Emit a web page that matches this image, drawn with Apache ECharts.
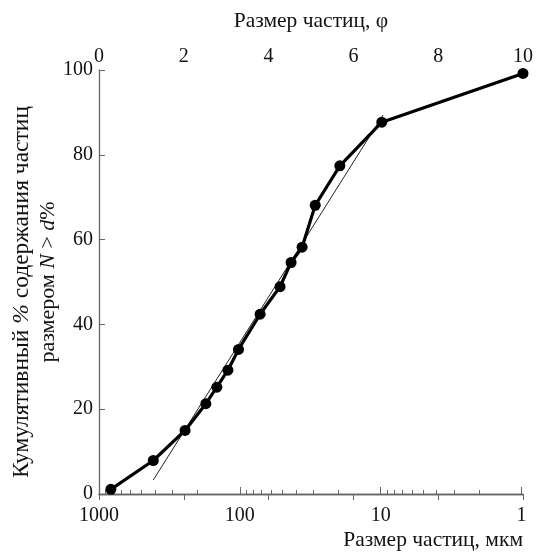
<!DOCTYPE html>
<html>
<head>
<meta charset="utf-8">
<script src="https://cdn.jsdelivr.net/npm/echarts@6/dist/echarts.min.js"></script>
<style>html,body{margin:0;padding:0;background:#fff;}#c{width:539px;height:557px;}</style>
</head>
<body>
<div id="c"></div>
<script>
// Data: particle size in phi units and cumulative %
var phiValues = [0.28, 1.28, 2.03, 2.52, 2.78, 3.04, 3.29, 3.80, 4.27, 4.53, 4.79, 5.10, 5.68, 6.67, 10.0];
var cumPercent = [1.1, 7.9, 15.0, 21.3, 25.2, 29.2, 34.1, 42.4, 48.9, 54.6, 58.2, 68.1, 77.4, 87.7, 99.2];
// Thin straight fit line (endpoints)
var fitPhi = [1.28, 6.70];
var fitPercent = [3.3, 89.4];
// Bottom axis tick labels (micrometres) and minor ticks
var majorSizes = [1000, 100, 10, 1];
var minorSizes = [900,800,700,600,500,400,300,200, 90,80,70,60,50,40,30,20, 9,8,7,6,5,4,3,2];
var phiTicks = [0, 2, 4, 6, 8, 10];
var yTicks = [0, 20, 40, 60, 80, 100];

function toPhi(um){ return Math.log(1000/um)/Math.LN2; }
var font = 'Liberation Serif';
var axisColor = '#666';

var chart = echarts.init(document.getElementById('c'));
chart.setOption({
  animation: false,
  backgroundColor: '#fff',
  grid: {left: 99, right: 16, top: 70, bottom: 63, outerBoundsMode: 'none', containLabel: false},
  xAxis: [
    {
      type: 'value', position: 'top', min: 0, max: 10, interval: 2,
      name: 'Размер частиц, φ', nameLocation: 'middle', nameGap: 38,
      nameTextStyle: {fontFamily: font, fontSize: 21.5, color: '#111'},
      axisLine: {lineStyle: {color: axisColor, width: 1.3}},
      axisTick: {inside: true, length: 6, lineStyle: {color: axisColor}},
      axisLabel: {fontFamily: font, fontSize: 20, color: '#111', margin: 3},
      splitLine: {show: false}
    },
    {
      type: 'value', position: 'bottom', min: 0, max: 10,
      name: 'Размер частиц, мкм', nameLocation: 'end', nameGap: 0,
      nameTextStyle: {fontFamily: font, fontSize: 21.5, color: '#111', align: 'right', verticalAlign: 'top', padding: [35, 0, 0, 0]},
      axisLine: {lineStyle: {color: axisColor, width: 1.3}},
      axisTick: {inside: true, length: 7, lineStyle: {color: axisColor}, customValues: majorSizes.map(toPhi)},
      axisLabel: {fontFamily: font, fontSize: 20, color: '#111', margin: 12,
        customValues: majorSizes.map(toPhi),
        formatter: function(v){ return String(Math.round(1000/Math.pow(2, v))); }},
      splitLine: {show: false}
    },
    {
      type: 'value', position: 'bottom', min: 0, max: 10,
      axisLine: {show: false},
      axisTick: {inside: true, length: 4, lineStyle: {color: axisColor}, customValues: minorSizes.map(toPhi)},
      axisLabel: {show: false},
      splitLine: {show: false}
    }
  ],
  yAxis: {
    type: 'value', min: 0, max: 100, interval: 20,
    name: '{a|Кумулятивный }{ai|%}{a| содержания частиц}{pad| }\n{b|размером }{bi|N}{b| > }{bi|d}{b|%}',
    nameLocation: 'middle', nameRotate: 90, nameGap: 38, nameMoveOverlap: false,
    nameTextStyle: {fontFamily: font, fontSize: 23.5, color: '#111', lineHeight: 26, align: 'center',
      rich: {
        a: {fontFamily: font, fontSize: 23.5, color: '#111', lineHeight: 26},
        ai: {fontFamily: font, fontSize: 23.5, fontStyle: 'italic', color: '#111', lineHeight: 26},
        pad: {fontFamily: font, fontSize: 23.5, width: 20, lineHeight: 26},
        b: {fontFamily: font, fontSize: 22, color: '#111', lineHeight: 26},
        bi: {fontFamily: font, fontSize: 22, fontStyle: 'italic', color: '#111', lineHeight: 26}
      }},
    axisLine: {lineStyle: {color: axisColor, width: 1.3}},
    axisTick: {inside: true, length: 6, lineStyle: {color: axisColor}},
    axisLabel: {fontFamily: font, fontSize: 20, color: '#111', margin: 6},
    splitLine: {show: false}
  },
  series: [
    {
      type: 'line', xAxisIndex: 0,
      data: fitPhi.map(function(p, i){ return [p, fitPercent[i]]; }),
      symbol: 'none', lineStyle: {color: '#222', width: 1}, z: 2
    },
    {
      type: 'line', xAxisIndex: 0,
      data: phiValues.map(function(p, i){ return [p, cumPercent[i]]; }),
      symbol: 'circle', symbolSize: 11,
      itemStyle: {color: '#000'},
      lineStyle: {color: '#000', width: 3.2}, z: 3
    }
  ]
});
</script>
</body>
</html>
